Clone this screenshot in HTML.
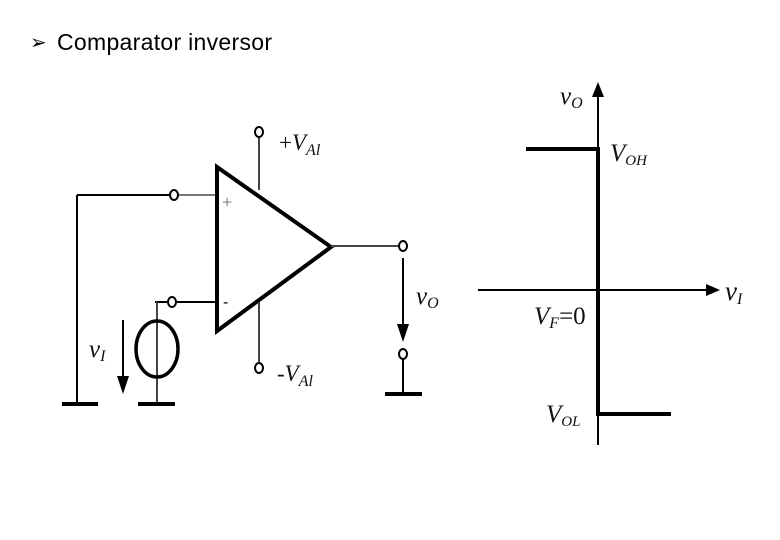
<!DOCTYPE html>
<html><head><meta charset="utf-8"><style>
body{margin:0;background:#fff;width:780px;height:540px;overflow:hidden;}
svg{position:absolute;left:0;top:0}
.t{font-family:"Liberation Serif",serif;font-style:italic;fill:#111}
</style></head><body>
<svg width="780" height="540" viewBox="0 0 780 540">
<text x="30" y="49" font-family="Liberation Sans, DejaVu Sans, sans-serif" font-size="20" fill="#000">➢</text>
<text x="57" y="50" font-family="Liberation Sans, DejaVu Sans, sans-serif" font-size="23" fill="#000" textLength="215">Comparator inversor</text>
<!-- op amp -->
<polygon points="217,167 217,331 331,247" fill="none" stroke="#000" stroke-width="4"/>
<g stroke="#000" stroke-width="2" fill="none">
<line x1="259" y1="138" x2="259" y2="190" stroke="#444"/>
<line x1="259" y1="302" x2="259" y2="362" stroke="#444"/>
<line x1="77" y1="195" x2="169" y2="195"/>
<line x1="179" y1="195" x2="215" y2="195" stroke="#777"/>
<line x1="77" y1="195" x2="77" y2="403"/>
<line x1="155" y1="302" x2="167" y2="302"/>
<line x1="177" y1="302" x2="215" y2="302"/>
<line x1="157" y1="302" x2="157" y2="403" stroke="#444"/>
<ellipse cx="157" cy="349" rx="21" ry="28" stroke-width="3.5"/>
<line x1="123" y1="320" x2="123" y2="378"/>
<line x1="331" y1="246" x2="398" y2="246" stroke="#444"/>
<line x1="403" y1="258" x2="403" y2="326"/>
<line x1="403" y1="359" x2="403" y2="393"/>
</g>
<g fill="#fff" stroke="#000" stroke-width="2">
<ellipse cx="259" cy="132" rx="4" ry="5"/>
<ellipse cx="259" cy="368" rx="4" ry="5"/>
<ellipse cx="174" cy="195" rx="4" ry="5"/>
<ellipse cx="172" cy="302" rx="4" ry="5"/>
<ellipse cx="403" cy="246" rx="4" ry="5"/>
<ellipse cx="403" cy="354" rx="4" ry="5"/>
</g>
<polygon points="117,376 129,376 123,394" fill="#000"/>
<polygon points="397,324 409,324 403,342" fill="#000"/>
<g fill="#000">
<rect x="62" y="402" width="36" height="4"/>
<rect x="138" y="402" width="37" height="4"/>
<rect x="385" y="392" width="37" height="4"/>
</g>
<text x="222" y="208" font-family="Liberation Serif,serif" font-size="18" fill="#666">+</text>
<text x="223" y="307" font-family="Liberation Sans,sans-serif" font-size="16" fill="#000">-</text>
<text class="t" x="279" y="150" font-size="23" style="font-style:normal">+<tspan font-style="italic">V</tspan><tspan font-style="italic" font-size="16" dy="5">Al</tspan></text>
<text class="t" x="277" y="381" font-size="23" style="font-style:normal">-<tspan font-style="italic">V</tspan><tspan font-style="italic" font-size="16" dy="5">Al</tspan></text>
<text class="t" x="416" y="304" font-size="25">v<tspan font-size="16" dy="4">O</tspan></text>
<text class="t" x="89" y="357" font-size="25">v<tspan font-size="16" dy="4">I</tspan></text>
<!-- graph -->
<g stroke="#000" fill="none">
<line x1="598" y1="95" x2="598" y2="445" stroke-width="2"/>
<line x1="478" y1="290" x2="710" y2="290" stroke-width="2"/>
<polyline points="526,149 598,149 598,414 671,414" stroke-width="4"/>
</g>
<polygon points="592,97 604,97 598,82" fill="#000"/>
<polygon points="706,284 706,296 720,290" fill="#000"/>
<text class="t" x="560" y="104" font-size="25">v<tspan font-size="16" dy="4">O</tspan></text>
<text class="t" x="610" y="161" font-size="25">V<tspan font-size="15" dy="4">OH</tspan></text>
<text class="t" x="725" y="300" font-size="27">v<tspan font-size="16" dy="4">I</tspan></text>
<text class="t" x="534" y="324" font-size="25">V<tspan font-size="16" dy="4">F</tspan><tspan dy="-4" style="font-style:normal">=0</tspan></text>
<text class="t" x="546" y="422" font-size="25">V<tspan font-size="15" dy="4">OL</tspan></text>
</svg>
</body></html>
